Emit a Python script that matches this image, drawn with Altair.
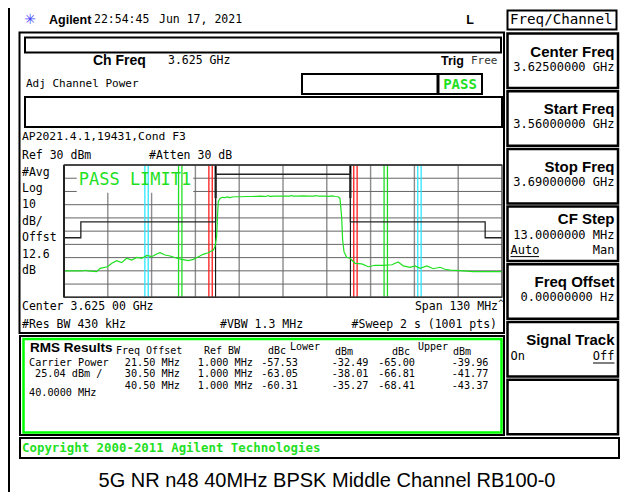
import altair as alt
import pandas as pd

# ---------------- data ----------------
trace_freq_mhz = [-65, -60, -58.5, -58, -55.3, -54.3, -52.1, -50.8, -49.4, -47.9, -46.4, -44.9, -43.4, -41.9,
                  -40.4, -39.0, -37.5, -36.5, -35.0, -33.5, -31.5, -30.1, -28.1, -26.6, -25.1, -23.7, -22.2,
                  -20.7, -20.2, -19.7, -19.4, -19.2, -18.7, -18.0, -17.2, -16.5, -15.8, -15.0, -14.0, -12.5,
                  -11.0, -9.5, -8.0, -6.5, -5.0, -4.5, -4.0, -2.5, -1.0, 0.5, 2.0, 2.5, 3.0, 4.5, 6.0, 7.5,
                  9.0, 10.0, 10.5, 12.0, 13.5, 14.5, 15.5, 16.4, 16.9, 17.4, 17.7, 18.1, 18.9, 19.9, 21.4,
                  23.4, 25.3, 27.3, 29.8, 32.3, 34.2, 35.7, 37.7, 39.2, 40.7, 42.7, 44.6, 46.6, 48.1, 49.6,
                  52.5, 56.5, 60.5, 65]
trace_level_dbm = [-50.1, -50.1, -49.6, -50.1, -50.6, -48.1, -46.9, -44.3, -42.3, -43.8, -40.5, -41.8, -39.8,
                   -40.5, -38.3, -39.3, -37.3, -36.3, -38.0, -38.8, -40.5, -41.3, -42.3, -41.3, -39.3, -37.5,
                   -36.3, -34.3, -31.8, -24.2, -6.5, 2.3, 4.8, 5.6, 5.4, 5.9, 5.3, 5.8, 6.0, 6.0, 6.2, 6.2,
                   6.3, 6.4, 6.2, 6.9, 6.3, 6.5, 6.4, 6.5, 6.4, 7.0, 6.4, 6.5, 6.6, 6.4, 6.5, 6.9, 6.4, 6.5,
                   6.3, 6.6, 6.2, 6.0, 4.8, -9.1, -26.7, -35.5, -39.8, -40.5, -44.3, -44.8, -46.9, -45.8,
                   -45.8, -45.4, -43.3, -46.3, -47.3, -46.3, -48.1, -46.3, -48.4, -47.3, -48.8, -49.4, -49.9,
                   -50.6, -50.6, -50.6]
limit_freq_mhz = [-65, -60, -60, -20, -20, 20, 20, 60, 60, 65]
limit_level_dbm = [-25, -25, -13, -13, 23, 23, -13, -13, -25, -25]
grid_freq_mhz = [-65, -52, -39, -26, -13, 0, 13, 26, 39, 52, 65]
grid_level_dbm = [-70, -60, -50, -40, -30, -20, -10, 0, 10, 20, 30]
channel_edge_mhz = [-20, 20]
channel_edge_top_dbm = [30, 30]
channel_edge_low_dbm = [5, 5]
red_marker_mhz = [-22, -21, 21, 22]
green_marker_mhz = [-31, -30, 30, 31]
cyan_marker_mhz = [-41, -40, 40, 41]

left_labels = ["#Avg", "Log", "10", "dB/", "Offst", "12.6", "dB"]
acp_offset = ["21.50 MHz", "30.50 MHz", "40.50 MHz"]
acp_ref_bw = ["1.000 MHz", "1.000 MHz", "1.000 MHz"]
lower_dbc = ["-57.53", "-63.05", "-60.31"]
lower_dbm = ["-32.49", "-38.01", "-35.27"]
upper_dbc = ["-65.00", "-66.81", "-68.41"]
upper_dbm = ["-39.96", "-41.77", "-43.37"]
carrier_lines = ["Carrier Power", "25.04 dBm /", "40.0000 MHz"]
softkey_titles = ["Center Freq", "Start Freq", "Stop Freq", "CF Step", "Freq Offset", "Signal Track", ""]
softkey_values = ["3.62500000 GHz", "3.56000000 GHz", "3.69000000 GHz", "13.0000000 MHz",
                  "0.00000000  Hz", "", ""]

# ---------------- layout helpers ----------------
OX, OY = 8, 8
MONO = "DejaVu Sans Mono"
SANS = "Liberation Sans"
GREEN = "#1fe01f"
one = pd.DataFrame({"k": [0]})


def X(v):
    return v - OX


def Y(v):
    return v - OY


def T(s, x, y, size=11.5, font=MONO, weight="normal", color="black", align="left", baseline="middle"):
    return alt.Chart(one).mark_text(text=s, font=font, fontSize=size, fontWeight=weight, color=color,
                                    align=align, baseline=baseline).encode(
        x=alt.value(X(x)), y=alt.value(Y(y)))


def R(x1, y1, x2, y2, stroke="black", sw=2.0, fill=None):
    if fill:
        m = alt.Chart(one).mark_rect(fill=fill, stroke=stroke, strokeWidth=sw)
    else:
        m = alt.Chart(one).mark_rect(fillOpacity=0, stroke=stroke, strokeWidth=sw)
    return m.encode(x=alt.value(X(x1)), x2=alt.value(X(x2)), y=alt.value(Y(y1)), y2=alt.value(Y(y2)))


def Ln(x1, y1, x2, y2, color="black", sw=1.0):
    return alt.Chart(one).mark_rule(color=color, strokeWidth=sw).encode(
        x=alt.value(X(x1)), x2=alt.value(X(x2)), y=alt.value(Y(y1)), y2=alt.value(Y(y2)))


PL, PR, PT, PB = 64, 502, 165, 297.3
xs = alt.Scale(domain=[-65, 65], range=[X(PL), X(PR)], zero=False, nice=False)
ys = alt.Scale(domain=[-70, 30], range=[Y(PB), Y(PT)], zero=False, nice=False)

L = []
# image left border
L.append(Ln(9, 8, 9, 492, sw=2))

# top bar
L.append(T("\u2733", 30, 20, size=14, font="DejaVu Sans", color="#4a4aff", align="center"))
L.append(T("Agilent", 49, 20, size=12.5, font=SANS, weight="bold"))
L.append(T("22:54:45", 94, 20))
L.append(T("Jun 17, 2021", 159, 20))
L.append(T("L", 470, 20, size=12.5, font=SANS, weight="bold", align="center"))
L.append(R(507.5, 10.5, 616.5, 29.5, sw=2))
L.append(T("Freq/Channel", 510, 20, size=14.2))

# main panel
L.append(R(19.5, 32.5, 504, 333, sw=2))
L.append(R(25, 37.5, 501, 52.5, sw=2))
L.append(T("Ch Freq", 93, 61, size=14, font=SANS, weight="bold"))
L.append(T("3.625 GHz", 168, 61))
L.append(T("Trig", 441, 61, size=12.5, font=SANS, weight="bold"))
L.append(T("Free", 471, 61, size=11, color="#333333"))
L.append(T("Adj Channel Power", 26, 84, size=11))
L.append(R(302, 74, 482, 94, sw=2))
L.append(Ln(438, 74, 438, 94, sw=3))
L.append(T("PASS", 460, 84.5, size=14, weight="bold", color=GREEN, align="center"))
L.append(R(25, 97, 502, 127, sw=2))
L.append(T("AP2021.4.1,19431,Cond F3", 22, 136.5, size=11.35))
L.append(T("Ref 30 dBm", 22, 155.5))
L.append(T("#Atten 30 dB", 149, 155.5))
for i, s in enumerate(left_labels):
    L.append(T(s, 22, 172.5 + 16.4 * i))

# graticule
L.append(alt.Chart(pd.DataFrame({"f": grid_freq_mhz})).mark_rule(color="#8c8c8c", strokeWidth=1.4).encode(
    x=alt.X("f:Q", scale=xs, axis=None), y=alt.value(Y(PT)), y2=alt.value(Y(PB))))
L.append(alt.Chart(pd.DataFrame({"d": grid_level_dbm})).mark_rule(color="#666666", strokeWidth=1).encode(
    y=alt.Y("d:Q", scale=ys, axis=None), x=alt.value(X(PL)), x2=alt.value(X(PR))))
L.append(R(77, 166, 193, 192.5, stroke="white", sw=0.5, fill="white"))

# marker lines
for vals, col in [(cyan_marker_mhz, "#2ee6ff"), (green_marker_mhz, GREEN), (red_marker_mhz, "#ff1a1a")]:
    L.append(alt.Chart(pd.DataFrame({"f": vals})).mark_rule(color=col, strokeWidth=1.3).encode(
        x=alt.X("f:Q", scale=xs, axis=None), y=alt.value(Y(PT)), y2=alt.value(Y(PB))))
L.append(alt.Chart(pd.DataFrame({"f": channel_edge_mhz})).mark_rule(color="black", strokeWidth=1).encode(
    x=alt.X("f:Q", scale=xs, axis=None), y=alt.value(Y(PT)), y2=alt.value(Y(PB))))
L.append(alt.Chart(pd.DataFrame({"f": channel_edge_mhz, "a": channel_edge_top_dbm, "b": channel_edge_low_dbm}))
         .mark_rule(color="black", strokeWidth=2).encode(
    x=alt.X("f:Q", scale=xs, axis=None), y=alt.Y("a:Q", scale=ys, axis=None), y2="b:Q"))

# limit line
L.append(alt.Chart(pd.DataFrame({"f": limit_freq_mhz, "d": limit_level_dbm, "i": range(len(limit_freq_mhz))}))
         .mark_line(color="#222222", strokeWidth=1.3).encode(
    x=alt.X("f:Q", scale=xs, axis=None), y=alt.Y("d:Q", scale=ys, axis=None), order="i:Q"))
# trace
L.append(alt.Chart(pd.DataFrame({"f": trace_freq_mhz, "d": trace_level_dbm, "i": range(len(trace_freq_mhz))}))
         .mark_line(color=GREEN, strokeWidth=1.2).encode(
    x=alt.X("f:Q", scale=xs, axis=None), y=alt.Y("d:Q", scale=ys, axis=None), order="i:Q"))

# frame
L.append(R(PL, PT, PR, PB, stroke="#555555", sw=1.2))
L.append(Ln(PL, PT, PL, PB, color="#222222", sw=2))
L.append(Ln(PL, PT, PR, PT, color="#333333", sw=1.5))
L.append(Ln(PL, PB, PR, PB, color="#333333", sw=1.5))
L.append(T("PASS LIMIT1", 135, 179.5, size=17, color=GREEN, align="center"))

# below graticule
L.append(T("Center 3.625 00 GHz", 22, 306.5))
L.append(T("Span 130 MHz", 498, 306.5, align="right"))
L.append(T("^", 501, 303, size=9, align="center"))
L.append(T("#Res BW 430 kHz", 22, 324.5))
L.append(T("#VBW 1.3 MHz", 220, 324.5))
L.append(T("#Sweep 2 s (1001 pts)", 497, 324.5, align="right"))

# RMS results box
L.append(R(20, 336, 504, 435, sw=2))
L.append(R(23.5, 339, 501.5, 432.5, stroke="#00ff00", sw=2.5))
L.append(T("RMS Results", 30, 347.5, size=13.5, font=SANS, weight="bold"))
L.append(T("Freq Offset", 116, 351, size=10))
L.append(T("Ref BW", 204, 351, size=10))
L.append(T("dBc", 268, 351, size=10))
L.append(T("Lower", 290, 346.5, size=10))
L.append(T("dBm", 335, 352, size=10))
L.append(T("dBc", 392, 352, size=10))
L.append(T("Upper", 418, 346.5, size=10))
L.append(T("dBm", 453, 352, size=10))
for i, s in enumerate(carrier_lines):
    L.append(T(s, [29, 35, 29][i], [362.7, 374.3, 392.5][i], size=10.2))
for i in range(3):
    yy = 362.7 + 11.65 * i
    L.append(T(acp_offset[i], 180, yy, size=10.2, align="right"))
    L.append(T(acp_ref_bw[i], 253, yy, size=10.2, align="right"))
    L.append(T(lower_dbc[i], 298, yy, size=10.2, align="right"))
    L.append(T(lower_dbm[i], 368.5, yy, size=10.2, align="right"))
    L.append(T(upper_dbc[i], 415, yy, size=10.2, align="right"))
    L.append(T(upper_dbm[i], 488.5, yy, size=10.2, align="right"))

# copyright bar
L.append(R(20, 438, 619, 458, sw=2))
L.append(T("Copyright 2000-2011 Agilent Technologies", 22, 448, size=12.4, weight="bold", color=GREEN))

# softkeys
for i in range(7):
    top = 33.5 + 57.7 * i
    L.append(R(507.5, top, 618, top + 54.5, sw=2.5))
    t = softkey_titles[i]
    if t == "CF Step":
        L.append(T(t, 614.5, top + 12.5, size=15, font=SANS, weight="bold", align="right"))
        L.append(T(softkey_values[i], 614.5, top + 28.5, size=12, align="right"))
        L.append(T("Auto", 510.5, top + 43.5, size=12))
        L.append(Ln(510.5, top + 50, 539, top + 50, sw=1))
        L.append(T("Man", 614.5, top + 43.5, size=12, align="right"))
    elif t == "Signal Track":
        L.append(T(t, 614.5, top + 18, size=15, font=SANS, weight="bold", align="right"))
        L.append(T("On", 510.5, top + 34, size=12))
        L.append(T("Off", 614.5, top + 34, size=12, align="right"))
        L.append(Ln(593, top + 41, 614.5, top + 41, sw=1))
    elif t:
        L.append(T(t, 614.5, top + 18, size=15, font=SANS, weight="bold", align="right"))
        L.append(T(softkey_values[i], 614.5, top + 33, size=12, align="right"))

# caption
L.append(T("5G NR n48 40MHz BPSK Middle Channel RB100-0", 327, 481, size=20, font=SANS, align="center"))

chart = alt.layer(*L).properties(
    width=613, height=484, autosize=alt.AutoSizeParams(type="none"), padding=0, background="white"
).configure_view(strokeWidth=0)

chart.save("out.html", embed_options={"renderer": "svg", "actions": False})
